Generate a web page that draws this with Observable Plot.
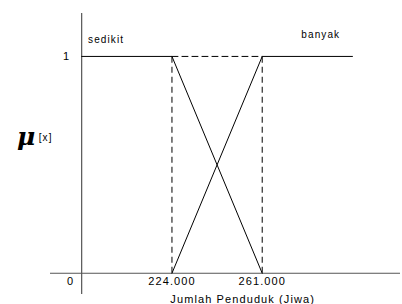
<!DOCTYPE html>
<html>
<head>
<meta charset="utf-8">
<script src="https://cdn.jsdelivr.net/npm/d3@7"></script>
<script src="https://cdn.jsdelivr.net/npm/@observablehq/plot@0.6"></script>
<style>
  html, body { margin: 0; padding: 0; background: #fff; }
  svg { display: block; }
  #chart svg text { letter-spacing: 1.1px; }
  #chart svg text.mu { letter-spacing: 0; }
</style>
</head>
<body>
<div id="chart"></div>
<script>
// Membership functions (x in thousands of people)
const sedikitX = [187, 224, 261];
const sedikitY = [1, 1, 0];
const banyakX = [224, 261, 298];
const banyakY = [0, 1, 1];
const tickValues = [224, 261];
const tickLabels = ["224.000", "261.000"];
const yTickValues = [0, 1];
const yTickLabels = ["0", "1"];
const curveNames = ["sedikit", "banyak"];
const curveLabelX = [197, 285];
const curveLabelY = [1.075, 1.098];
const xTitle = "Jumlah Penduduk (Jiwa)";
const axisX = 187;

const sedikit = sedikitX.map((x, i) => ({x, y: sedikitY[i]}));
const banyak = banyakX.map((x, i) => ({x, y: banyakY[i]}));
const dashedH = [{x: tickValues[0], y: 1}, {x: tickValues[1], y: 1}];
const ticks = tickValues.map((x, i) => ({x, label: tickLabels[i]}));
const names = curveNames.map((n, i) => ({n, x: curveLabelX[i], y: curveLabelY[i]}));

const plot = Plot.plot({
  width: 402,
  height: 304,
  marginLeft: 50,
  marginRight: 2,
  marginTop: 13,
  marginBottom: 10,
  style: {fontFamily: "'Liberation Sans', Arial, sans-serif", fontSize: "11px", background: "#fff"},
  x: {domain: [174.2, 317.7], axis: null},
  y: {domain: [-0.098, 1.198], axis: null},
  marks: [
    // axes
    Plot.ruleX([axisX], {y1: -0.098, y2: 1.198, stroke: "#333", strokeWidth: 1}),
    Plot.ruleY([0], {x1: 174.2, x2: 317.7, stroke: "#555", strokeWidth: 1}),
    // dashed guides
    Plot.ruleX(tickValues, {y1: 0, y2: 1, stroke: "#000", strokeDasharray: "6,4", strokeWidth: 1}),
    Plot.line(dashedH, {x: "x", y: "y", stroke: "#000", strokeDasharray: "6,4", strokeWidth: 1}),
    // membership lines
    Plot.line(sedikit, {x: "x", y: "y", stroke: "#000", strokeWidth: 1}),
    Plot.line(banyak, {x: "x", y: "y", stroke: "#000", strokeWidth: 1}),
    // tick labels
    Plot.text(ticks, {x: "x", y: 0, text: "label", dy: 8, fill: "#000", fontSize: 11}),
    Plot.text([yTickLabels[1]], {x: axisX, y: yTickValues[1], text: d => d, dx: -15, fill: "#000", fontSize: 11}),
    Plot.text([yTickLabels[0]], {x: axisX, y: yTickValues[0], text: d => d, dx: -11, dy: 8, fill: "#000", fontSize: 11}),
    // curve names
    Plot.text(names, {x: "x", y: "y", text: "n", fill: "#000", fontSize: 10}),
    // x title
    Plot.text([xTitle], {x: 253, y: -0.12, text: d => d, fill: "#000", fontSize: 11}),
    // mu label
    Plot.text(["\u03bc"], {x: axisX, y: 0.62, text: d => d, dx: -55, dy: -2, fill: "#000", fontSize: 25, fontStyle: "italic", fontWeight: "bold", fontFamily: "'DejaVu Serif', serif", className: "mu"}),
    Plot.text(["[x]"], {x: axisX, y: 0.62, text: d => d, dx: -43, dy: -1, fill: "#000", fontSize: 10, textAnchor: "start"})
  ]
});
document.getElementById("chart").append(plot);
</script>
</body>
</html>
